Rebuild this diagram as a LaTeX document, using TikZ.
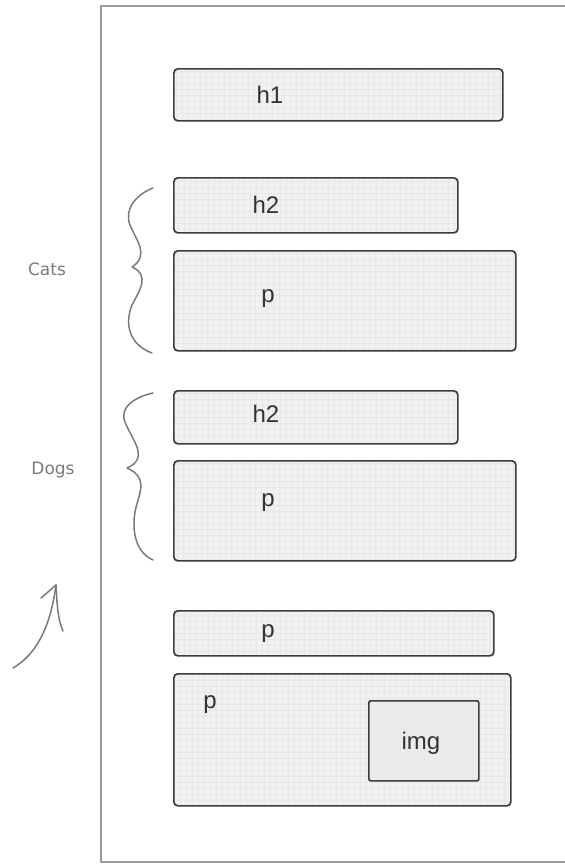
\documentclass[tikz,border=0pt]{standalone}
\usepackage{fontspec}
\setmainfont{Liberation Sans}
\newfontfamily\handfont{DejaVu Sans}[Scale=1]
\definecolor{boxline}{HTML}{3C3C3C}
\definecolor{boxfill}{HTML}{F1F1F1}
\definecolor{gridc}{HTML}{E8E8E8}
\definecolor{pencil}{HTML}{7A7A7A}
\definecolor{framec}{HTML}{9A9A9A}
\definecolor{txt}{HTML}{333333}
\begin{document}
\begin{tikzpicture}[x=1pt,y=-1pt,
  box/.style={draw=boxline,line width=1.7pt,rounded corners=4pt,fill=boxfill,anchor=north west,inner sep=0pt,
    path picture={\draw[gridc,line width=0.3pt] (path picture bounding box.south west) grid[step=6pt] (path picture bounding box.north east);}},
  lbl/.style={font=\fontsize{24}{24}\selectfont,text=txt,inner sep=0pt},
  hand/.style={font=\fontsize{17}{17}\selectfont\handfont,text=pencil,inner sep=0pt},
  pen/.style={draw=pencil,line width=1.5pt,line cap=round,line join=round}]
\useasboundingbox (0,0) rectangle (565,865);
% page frame
\coordinate (ftr) at (566,6);
\coordinate (ftl) at (101,6);
\coordinate (fbl) at (101,862);
\coordinate (fbr) at (566,862);
\draw[framec,line width=2.2pt] (ftr) -- (ftl) -- (fbl) -- (fbr);
% boxes
\node[box,minimum width=329pt,minimum height=52pt] (h1) at (173,68) {};
\node[lbl] (h1t) at (270,95) {h1};
\node[box,minimum width=284pt,minimum height=55pt] (h2a) at (173,177) {};
\node[lbl] (h2at) at (266,205) {h2};
\node[box,minimum width=342pt,minimum height=100pt] (pa) at (173,250) {};
\node[lbl] (pat) at (268,299) {p};
\node[box,minimum width=284pt,minimum height=53pt] (h2b) at (173,390) {};
\node[lbl] (h2bt) at (266,414) {h2};
\node[box,minimum width=342pt,minimum height=100pt] (pb) at (173,460) {};
\node[lbl] (pbt) at (268,503) {p};
\node[box,minimum width=320pt,minimum height=45pt] (pc) at (173,610) {};
\node[lbl] (pct) at (268,634) {p};
\node[box,minimum width=337pt,minimum height=132pt] (pd) at (173,673) {};
\node[lbl] (pdt) at (210,705) {p};
\node[box,minimum width=110pt,minimum height=80pt,rounded corners=2pt,fill=black!8] (img) at (368,700) {};
\node[lbl] (imgt) at (421,743) {img};
% braces
\draw[pen] (153,188) .. controls (135,195) and (124,210) .. (130,225)
  .. controls (136,240) and (150,255) .. (132,267)
  .. controls (150,275) and (140,290) .. (132,305)
  .. controls (124,325) and (130,345) .. (152,353);
\node[hand] (cats) at (47,269) {Cats};
\draw[pen] (153,393) .. controls (135,397) and (119,407) .. (125,422)
  .. controls (132,440) and (150,458) .. (127,468)
  .. controls (150,478) and (138,495) .. (135,512)
  .. controls (132,530) and (135,552) .. (153,560);
\node[hand] (dogs) at (53,470) {Dogs};
% arrow
\coordinate (arrS) at (13,668);
\coordinate (arrT) at (56,585);
\coordinate (arrL) at (41,598);
\coordinate (arrR) at (63,631);
\draw[pen] (arrS) .. controls (35,655) and (50,630) .. (arrT);
\draw[pen] (arrL) -- (arrT) .. controls (57,605) and (58,620) .. (arrR);
\end{tikzpicture}
\end{document}
